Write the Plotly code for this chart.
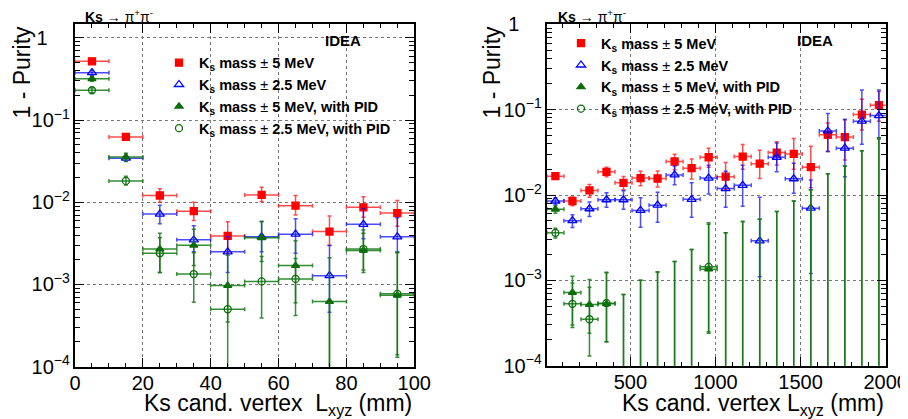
import plotly.graph_objects as go

# ---------------- Left panel: Lxyz 0-100 mm (10 mm bins) ----------------
x_left = [5, 15, 25, 35, 45, 55, 65, 75, 85, 95]
xhw_left = [5, 5, 5, 5, 5, 5, 5, 5, 5, 5]

red_l = [0.52, 0.0625, 0.0121, 0.0078, 0.0039, 0.0123, 0.0091, 0.0044, 0.0087, 0.0074]
red_l_up = [0.03, 0.005, 0.0025, 0.0022, 0.0019, 0.003, 0.003, 0.0024, 0.003, 0.0031]
red_l_dn = [0.03, 0.005, 0.0021, 0.0018, 0.0015, 0.0021, 0.0021, 0.0014, 0.0021, 0.0023]

blue_l = [0.378, 0.0344, 0.0072, 0.0035, 0.0025, 0.0038, 0.0041, 0.00128, 0.0054, 0.0038]
blue_l_up = [0.025, 0.003, 0.002, 0.0017, 0.0013, 0.0021, 0.0022, 0.0017, 0.003, 0.0027]
blue_l_dn = [0.025, 0.003, 0.0017, 0.001, 0.0011, 0.0013, 0.0017, 0.00082, 0.0018, 0.0013]

gtri_l = [0.318, 0.0355, 0.0027, 0.0030, 0.00097, 0.0037, 0.0017, 0.00062, 0.0026, 0.00074]
gtri_l_up = [0.02, 0.004, 0.0015, 0.0017, 0.0013, 0.0021, 0.0017, 0.0015, 0.002, 0.0017]
gtri_l_dn = [0.02, 0.004, 0.0013, 0.0013, 0.00097, 0.0018, 0.0011, 0.00062, 0.0012, 0.0006]

gcirc_l = [0.231, 0.0182, 0.0024, 0.00134, 0.0005, 0.00109, 0.00117, 0.0, 0.0027, 0.00077]
gcirc_l_up = [0.015, 0.0025, 0.0013, 0.0011, 0.0005, 0.0011, 0.0009, 0.0006, 0.0015, 0.0017]
gcirc_l_dn = [0.015, 0.002, 0.001, 0.00073, 0.00015, 0.0007, 0.00075, 0.0, 0.0012, 0.00064]

# ---------------- Right panel: Lxyz 10-2000 mm (100 mm bins) ----------------
x_right = [60, 160, 260, 360, 460, 560, 660, 760, 860, 960,
           1060, 1160, 1260, 1360, 1460, 1560, 1660, 1760, 1860, 1960]
xhw_right = [50] * 20

red_r = [0.0166, 0.0085, 0.0113, 0.0187, 0.0139, 0.0158, 0.0156, 0.0247, 0.0206, 0.0277,
         0.0164, 0.0282, 0.0233, 0.0314, 0.0303, 0.0212, 0.0507, 0.0477, 0.0877, 0.113]
red_r_up = [0.0012, 0.001, 0.002, 0.0025, 0.0026, 0.0032, 0.0035, 0.0054, 0.0058, 0.0075,
            0.0076, 0.0108, 0.0102, 0.0106, 0.0155, 0.016, 0.019, 0.028, 0.045, 0.05]
red_r_dn = [0.0012, 0.001, 0.0019, 0.0023, 0.0024, 0.003, 0.0032, 0.005, 0.0052, 0.0065,
            0.0049, 0.0082, 0.0077, 0.0089, 0.0103, 0.009, 0.0184, 0.022, 0.03, 0.04]

blue_r = [0.0085, 0.0050, 0.0069, 0.0088, 0.0088, 0.0066, 0.0076, 0.0172, 0.0089, 0.0158,
          0.0119, 0.0130, 0.0029, 0.0277, 0.0155, 0.0070, 0.0563, 0.0354, 0.0733, 0.0853]
blue_r_up = [0.0008, 0.00085, 0.0014, 0.0018, 0.0024, 0.0027, 0.0032, 0.0047, 0.005, 0.0065,
             0.0071, 0.0093, 0.0065, 0.013, 0.008, 0.008, 0.034, 0.042, 0.097, 0.085]
blue_r_dn = [0.0008, 0.00085, 0.0013, 0.0016, 0.002, 0.0024, 0.0028, 0.004, 0.0034, 0.0055,
             0.0047, 0.0056, 0.0018, 0.009, 0.005, 0.0058, 0.024, 0.019, 0.034, 0.04]

gtri_r = [0.0068, 0.00072, 0.00052, 0.00053, 0.0, 0.0, 0.0, 0.0, 0.0, 0.00135,
          0.0, 0.0, 0.0, 0.0, 0.0, 0.0, 0.0, 0.0, 0.0, 0.0]
gtri_r_up = [0.0007, 0.0004, 0.0005, 0.0007, 0.00068, 0.001, 0.00125, 0.00166, 0.0023, 0.0032,
             0.0036, 0.0049, 0.0052, 0.0064, 0.0085, 0.0115, 0.0177, 0.0219, 0.0331, 0.047]
gtri_r_dn = [0.0007, 0.00042, 0.00039, 0.00034, 0.0, 0.0, 0.0, 0.0, 0.0, 0.0011,
             0.0, 0.0, 0.0, 0.0, 0.0, 0.0, 0.0, 0.0, 0.0, 0.0]

gcirc_r = [0.0036, 0.00053, 0.00035, 0.00054, 0.0, 0.0, 0.0, 0.0, 0.0, 0.00144,
           0.0, 0.0, 0.0, 0.0, 0.0, 0.0, 0.0, 0.0, 0.0, 0.0]
gcirc_r_up = [0.00047, 0.0004, 0.00048, 0.0007, 0.00068, 0.001, 0.00125, 0.00166, 0.0023, 0.0033,
              0.0036, 0.0049, 0.0052, 0.0064, 0.0085, 0.0115, 0.0177, 0.0219, 0.0331, 0.047]
gcirc_r_dn = [0.00047, 0.00025, 0.00011, 0.00035, 0.0, 0.0, 0.0, 0.0, 0.0, 0.0012,
              0.0, 0.0, 0.0, 0.0, 0.0, 0.0, 0.0, 0.0, 0.0, 0.0]

names = [
    "<b>K<sub>s</sub> mass</b> ± <b>5 MeV</b>",
    "<b>K<sub>s</sub> mass</b> ± <b>2.5 MeV</b>",
    "<b>K<sub>s</sub> mass</b> ± <b>5 MeV, with PID</b>",
    "<b>K<sub>s</sub> mass</b> ± <b>2.5 MeV, with PID</b>",
]

FLOOR = 1e-9  # zero-valued bins sit below the log axis; only their error bars show

RED, BLUE, GREEN = "#ff0000", "#0000ff", "#0b6b0b"
RED_E, BLUE_E, GREEN_E = "rgba(255,0,0,0.7)", "rgba(0,0,255,0.7)", "rgba(20,120,20,0.85)"

fig = go.Figure()


def add_series(x, xhw, y, up, dn, name, symbol, color, ecolor, size, xa, ya, legend):
    yplot = [v if v > 0 else FLOOR for v in y]
    fig.add_trace(go.Scatter(
        x=x, y=yplot, mode="markers", name=name, xaxis=xa, yaxis=ya, legend=legend,
        marker=dict(symbol=symbol, size=size, color=color, line=dict(color=color, width=1.3)),
        error_y=dict(type="data", symmetric=False, array=up, arrayminus=dn,
                     color=ecolor, thickness=1.5, width=2),
        error_x=dict(type="data", array=xhw, color=ecolor, thickness=1.5, width=2),
    ))


panels = [
    (x_left, xhw_left, [(red_l, red_l_up, red_l_dn), (blue_l, blue_l_up, blue_l_dn),
                        (gtri_l, gtri_l_up, gtri_l_dn), (gcirc_l, gcirc_l_up, gcirc_l_dn)],
     "x", "y", "legend"),
    (x_right, xhw_right, [(red_r, red_r_up, red_r_dn), (blue_r, blue_r_up, blue_r_dn),
                          (gtri_r, gtri_r_up, gtri_r_dn), (gcirc_r, gcirc_r_up, gcirc_r_dn)],
     "x2", "y2", "legend2"),
]
styles = [("square", RED, RED_E, 7), ("triangle-up-open", BLUE, BLUE_E, 8),
          ("triangle-up", GREEN, GREEN_E, 7), ("circle-open", GREEN, GREEN_E, 7)]

for xs, xhw, series, xa, ya, lg in panels:
    for (vals, up, dn), (sym, col, ecol, sz), nm in zip(series, styles, names):
        add_series(xs, xhw, vals, up, dn, nm, sym, col, ecol, sz, xa, ya, lg)

# page body has an 8px margin: lay out in page pixels and convert to figure fractions
OFF = 8
W, H = 900, 411


def fx(px):
    return (px - OFF) / W


def fy(py):
    return (H - (py - OFF)) / H


FONT = "Liberation Sans, Arial, sans-serif"

axis_common = dict(
    showline=True, linecolor="black", linewidth=2, mirror="ticks",
    ticks="inside", tickcolor="black", tickwidth=1, automargin=False,
    showgrid=True, gridcolor="#777777", griddash="dot", gridwidth=1,
    zeroline=False, tickfont=dict(size=20, family=FONT, color="black"),
)
minor_x = dict(ticks="inside", ticklen=4, tickcolor="black", showgrid=False)
minor_y = dict(ticks="inside", ticklen=5, tickcolor="black", showgrid=False, dtick="D1")
ytick_font = dict(size=16, family=FONT, color="black")  # power format scales by 1.25
one_alias = {"1": "1\u00a0\u00a0\u00a0\u00a0"}

fig.update_layout(
    width=W, height=H, margin=dict(l=0, r=0, t=0, b=0, pad=0, autoexpand=False),
    paper_bgcolor="white", plot_bgcolor="white",
    font=dict(family=FONT, color="black"),
    xaxis=dict(domain=[fx(75), fx(414.3)], range=[0, 100], anchor="y",
               dtick=20, ticklen=9, ticklabelstandoff=-3,
               minor=dict(dtick=5, **minor_x), **axis_common),
    yaxis=dict(domain=[fy(366.7), fy(24)], type="log", range=[-4.0005, 0.17],
               anchor="x", dtick=1, ticklen=9, exponentformat="power", labelalias=one_alias,
               minor=minor_y, **{**axis_common, "tickfont": ytick_font}),
    xaxis2=dict(domain=[fx(546.9), fx(885.7)], range=[10, 2000], anchor="y2",
                dtick=500, tick0=0, ticklen=9, ticklabelstandoff=-3,
                minor=dict(dtick=100, **minor_x), **axis_common),
    yaxis2=dict(domain=[fy(365.7), fy(24.3)], type="log", range=[-4.0005, 0.0005],
                anchor="x2", dtick=1, ticklen=9, exponentformat="power", labelalias=one_alias,
                minor=minor_y, **{**axis_common, "tickfont": ytick_font}),
    legend=dict(x=fx(151 + OFF), y=fy(38.7 + OFF), xanchor="left", yanchor="top",
                bgcolor="rgba(0,0,0,0)", font=dict(size=14.5, family=FONT, color="black"),
                tracegroupgap=0, itemwidth=30),
    legend2=dict(x=fx(553 + OFF), y=fy(19.2 + OFF), xanchor="left", yanchor="top",
                 bgcolor="rgba(0,0,0,0)", font=dict(size=14.5, family=FONT, color="black"),
                 tracegroupgap=0, itemwidth=30),
)

annots = []
for x0, xr, yt_x, idea_x in [(83, 414.3, 22, 343), (556, 885.7, 492, 815)]:
    annots.append(dict(text="<b>Ks</b> → π<sup>+</sup>π<sup>-</sup>", x=fx(x0), y=fy(16),
                       xref="paper", yref="paper", xanchor="left", yanchor="middle",
                       showarrow=False, font=dict(size=14, family=FONT)))
    annots.append(dict(text="<b>IDEA</b>", x=fx(idea_x), y=fy(40),
                       xref="paper", yref="paper", xanchor="center", yanchor="middle",
                       showarrow=False, font=dict(size=15, family=FONT)))
    annots.append(dict(text="1 - Purity", x=fx(yt_x), y=fy(24), textangle=-90,
                       xref="paper", yref="paper", xanchor="center", yanchor="top",
                       showarrow=False, font=dict(size=23, family=FONT)))
    annots.append(dict(text="Ks cand. vertex\u00a0 L<sub>xyz</sub> (mm)" if x0 < 300
                       else "Ks cand. vertex L<sub>xyz</sub> (mm)",
                       x=fx(xr), y=fy(404),
                       xref="paper", yref="paper", xanchor="right", yanchor="middle",
                       showarrow=False, font=dict(size=23, family=FONT)))
fig.update_layout(annotations=annots)

fig.write_html("out.html")
